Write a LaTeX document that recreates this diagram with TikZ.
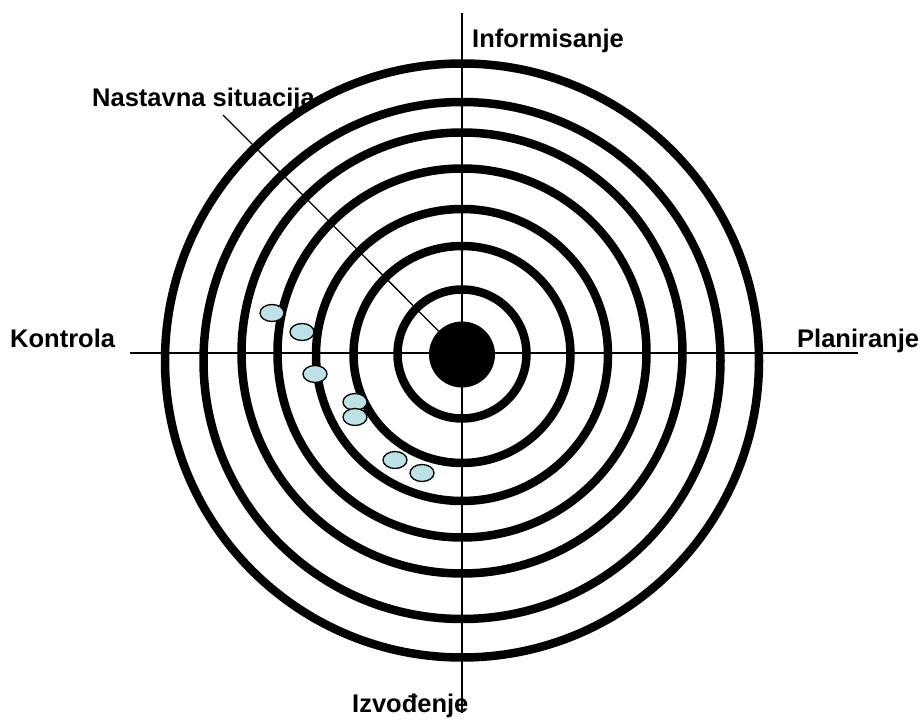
\documentclass[tikz,border=0pt]{standalone}
\usepackage{fontspec}
\setmainfont{Liberation Sans}
\usetikzlibrary{shapes.geometric}
\definecolor{dotcol}{HTML}{BDE1E4}
\begin{document}
\begin{tikzpicture}[x=1pt,y=-1pt,
  lbl/.style={font=\fontsize{25.5}{30}\selectfont\bfseries, inner sep=0pt, anchor=base west},
  ring/.style={draw, line width=8.5pt},
  thin/.style={draw, line width=1.3pt},
  blob/.style={draw, line width=1.3pt, fill=dotcol, ellipse, minimum width=24pt, minimum height=17pt, inner sep=0pt}]
\useasboundingbox (0,0) rectangle (922,722);
% axes
\coordinate (vtop) at (462,13);
\coordinate (vbot) at (462,713);
\coordinate (hl) at (130,353);
\coordinate (hr) at (858,353);
\draw[thin] (vtop) -- (vbot);
\draw[thin] (hl) -- (hr);
% rings
\draw[ring] (462,360.5) circle (297);
\draw[ring] (462,360.5) circle (258.5);
\draw[ring] (462,353) circle (220.5);
\draw[ring] (462,353) circle (184.5);
\draw[ring] (462,355) circle (146);
\draw[ring] (462,354.5) circle (108.5);
\draw[ring] (462,354) circle (64.5);
\node[circle, fill=black, inner sep=0pt, minimum size=66pt] (disk) at (462,354.5) {};
% pointer
\coordinate (pstart) at (223,115);
\draw[thin] (pstart) -- (disk.135);
% blobs
\node[blob] (b1) at (272,313) {};
\node[blob] (b2) at (302,332) {};
\node[blob] (b3) at (315,374) {};
\node[blob] (b4) at (355,402) {};
\node[blob] (b5) at (355,417) {};
\node[blob] (b6) at (395,460) {};
\node[blob] (b7) at (422,473) {};
% labels
\node[lbl] (info) at (472,48) {Informisanje};
\node[lbl] (nast) at (92,107) {Nastavna situacija};
\node[lbl] (kont) at (10,348) {Kontrola};
\node[lbl] (plan) at (797,348) {Planiranje};
\node[lbl] (izvo) at (352,712) {Izvođenje};
\end{tikzpicture}
\end{document}
